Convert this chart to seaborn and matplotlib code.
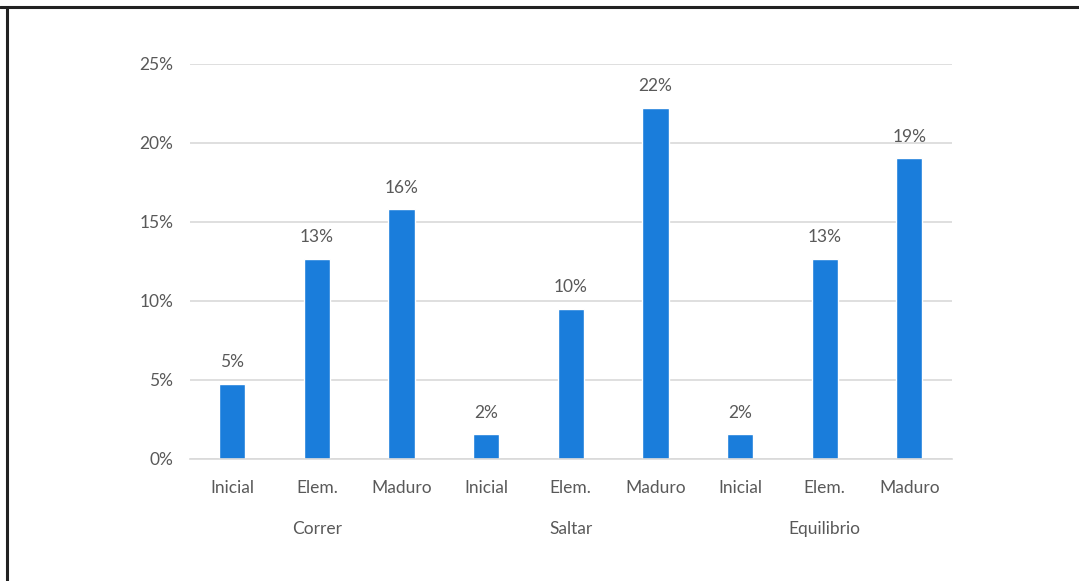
import matplotlib
matplotlib.use("Agg")
import matplotlib.pyplot as plt
from matplotlib.lines import Line2D
import seaborn as sns
import pandas as pd

# Share of children per skill and development stage
groups = ["Correr", "Saltar", "Equilibrio"]
levels = ["Inicial", "Elem.", "Maduro"]
correr = [0.0476, 0.1266, 0.1582]
saltar = [0.0158, 0.0952, 0.2222]
equilibrio = [0.0158, 0.1266, 0.1905]
y_ticks = [0, 0.05, 0.10, 0.15, 0.20, 0.25]

rows = []
for g, vals in zip(groups, [correr, saltar, equilibrio]):
    for lvl, v in zip(levels, vals):
        rows.append({"key": f"{g}|{lvl}", "grupo": g, "nivel": lvl, "valor": v})
df = pd.DataFrame(rows)

sns.set_theme(style="white")
plt.rcParams["font.family"] = ["Lato", "DejaVu Sans"]

text_col = "#595959"
bar_col = "#1A7DDB"
fs = 12.5

fig = plt.figure(figsize=(10.79, 5.81), dpi=100)
ax = fig.add_axes([0.176, 0.21, 0.706, 0.68])

sns.barplot(data=df, x="key", y="valor", order=list(df["key"]), color=bar_col,
            width=0.31, saturation=1, ax=ax)

ax.set_ylim(0, 0.25)
ax.set_yticks(y_ticks)
ax.set_yticklabels([f"{t:.0%}" for t in y_ticks], color=text_col, fontsize=fs)
ax.yaxis.grid(True, color="#D9D9D9", linewidth=1.2)
ax.set_axisbelow(True)
ax.set_xlim(-0.5, len(df) - 0.5)
ax.set_xticks(range(len(df)))
ax.set_xticklabels(df["nivel"], color=text_col, fontsize=fs)
ax.tick_params(axis="y", length=0, pad=12)
ax.tick_params(axis="x", length=0, pad=15)
ax.set_xlabel("")
ax.set_ylabel("")
for s in ["top", "right", "left"]:
    ax.spines[s].set_visible(False)
ax.spines["bottom"].set_color("#D9D9D9")
ax.spines["bottom"].set_linewidth(1.2)

# Value labels above bars
for i, v in enumerate(df["valor"]):
    ax.text(i, v + 0.0085, f"{v:.0%}", ha="center", va="bottom",
            color=text_col, fontsize=fs)

# Group labels under each triplet
for gi, g in enumerate(groups):
    ax.text(gi * 3 + 1, -0.0395, g, ha="center", va="top", color=text_col,
            fontsize=fs, transform=ax.transData, clip_on=False)

# Frame lines of the surrounding box
fig.add_artist(Line2D([0, 1], [1 - 7 / 581, 1 - 7 / 581], color="#222222",
                      linewidth=2.2, transform=fig.transFigure))
fig.add_artist(Line2D([7 / 1079, 7 / 1079], [0, 1 - 7 / 581], color="#222222",
                      linewidth=2.2, transform=fig.transFigure))

fig.savefig("out.png", dpi=100, facecolor="white")
